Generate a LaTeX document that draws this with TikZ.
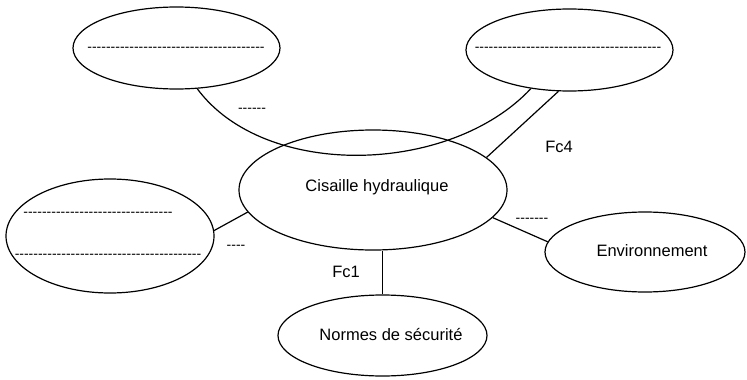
\documentclass[tikz,border=0pt]{standalone}
\usepackage{fontspec}
\setmainfont{Liberation Sans}
\usetikzlibrary{shapes.geometric}
\newcommand\dsh[1]{\foreach\k in {1,...,#1}{-\kern0pt}}
\tikzset{
  ell/.style={draw, ellipse, inner sep=0pt, line width=1.2pt},
  lbl/.style={inner sep=0pt, font=\fontsize{16.5}{20}\selectfont},
  dlbl/.style={inner sep=0pt, font=\fontsize{14}{16}\selectfont},
  conn/.style={line width=1.2pt}
}
\begin{document}
\begin{tikzpicture}[x=1pt,y=-1pt]
\useasboundingbox (0,0) rectangle (747,380);
% ellipses
\node[ell, minimum width=207pt, minimum height=82pt] (tl) at (176.5,48) {};
\node[ell, minimum width=207pt, minimum height=82pt] (tr) at (569.5,50) {};
\node[ell, minimum width=268pt, minimum height=120pt] (c) at (373,190) {};
\node[ell, minimum width=208pt, minimum height=114pt] (lf) at (110,236) {};
\node[ell, minimum width=200pt, minimum height=80pt] (env) at (645,252) {};
\node[ell, minimum width=209pt, minimum height=81pt] (nor) at (382.5,335.5) {};
% texts
\node[lbl] (tc) at (377,187) {Cisaille hydraulique};
\node[lbl] (tenv) at (652,251) {Environnement};
\node[lbl] (tnor) at (391,335) {Normes de sécurité};
\node[lbl] (fc4) at (559,147) {Fc4};
\node[lbl] (fc1) at (346,272) {Fc1};
% dashed placeholders
\node[dlbl] (d1) at (176,49) {\dsh{38}};
\node[dlbl] (d2) at (568,49) {\dsh{40}};
\node[dlbl] (d3) at (98,214) {\dsh{32}};
\node[dlbl] (d4) at (108,256) {\dsh{40}};
\node[dlbl] (d5) at (252,110) {\dsh{6}};
\node[dlbl] (d6) at (532,220) {\dsh{7}};
\node[dlbl] (d7) at (236,247) {\dsh{4}};
% connectors
\draw[conn] (tl.-63) .. controls (265,180) and (450,175) .. (tr.-135);
\draw[conn] (tr.-105) -- (c.16);
\draw[conn] (c.190) -- (lf.3);
\draw[conn] (c.-13.6) -- (env.174);
\draw[conn] (nor.north) -- (nor.north |- c.south);
\end{tikzpicture}
\end{document}
